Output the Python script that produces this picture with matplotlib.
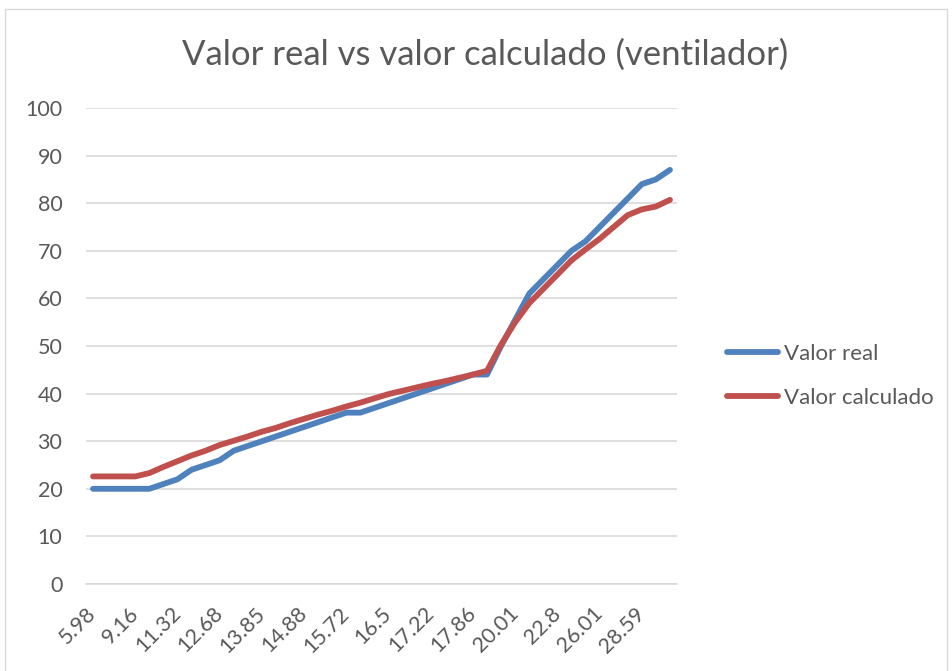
import matplotlib
matplotlib.use("Agg")
import matplotlib.pyplot as plt
from matplotlib.patches import Rectangle

plt.rcParams['font.family'] = ['Lato', 'DejaVu Sans']

title = "Valor real vs valor calculado (ventilador)"

# velocidades mostradas en el eje (una de cada tres mediciones)
tick_labels = ["5.98", "9.16", "11.32", "12.68", "13.85", "14.88", "15.72",
               "16.5", "17.22", "17.86", "20.01", "22.8", "26.01", "28.59"]
label_step = 3

valor_real = [20, 20, 20, 20, 20, 21, 22, 24, 25, 26,
              28, 29, 30, 31, 32, 33, 34, 35, 36, 36,
              37, 38, 39, 40, 41, 42, 43, 44, 44, 50,
              55.5, 61, 64, 67, 70, 72, 75, 78, 81, 84,
              85, 87]

valor_calculado = [22.6, 22.6, 22.6, 22.6, 23.3, 24.6, 25.8, 27.0, 28.0, 29.2,
                   30.1, 31.0, 32.0, 32.8, 33.8, 34.7, 35.6, 36.4, 37.3, 38.1,
                   39.0, 39.9, 40.6, 41.3, 42.0, 42.6, 43.3, 44.0, 44.8, 50.3,
                   55.0, 59.0, 62.0, 65.0, 68.0, 70.3, 72.5, 75.0, 77.5, 78.7,
                   79.3, 80.7]

text_color = '#595959'
grid_color = '#d9d9d9'

fig = plt.figure(figsize=(9.52, 6.71), dpi=100)

# borde del área del gráfico
fig.patches.append(Rectangle((5 / 952, -0.05), 942 / 952, 1.05 - 9 / 671,
                             transform=fig.transFigure, fill=False,
                             edgecolor=grid_color, linewidth=1))

ax = fig.add_axes([86 / 952, 1 - 584 / 671, 591 / 952, 476 / 671])

x = list(range(len(valor_real)))
ax.plot(x, valor_real, color='#4F81BD', lw=4.2, solid_capstyle='round',
        solid_joinstyle='round', label='Valor real', zorder=3)
ax.plot(x, valor_calculado, color='#C0504D', lw=4.2, solid_capstyle='round',
        solid_joinstyle='round', label='Valor calculado', zorder=3)

ax.set_xlim(-0.5, len(x) - 0.5)
ax.set_ylim(0, 100)
ax.set_yticks(range(0, 101, 10))
ax.set_xticks(range(0, len(tick_labels) * label_step, label_step))
ax.set_xticklabels(tick_labels, rotation=45, ha='right', va='center',
                   rotation_mode='anchor')
ax.grid(axis='y', color=grid_color, lw=1.2, zorder=0)
ax.set_axisbelow(True)
for side in ['top', 'right', 'left']:
    ax.spines[side].set_visible(False)
ax.spines['bottom'].set_color(grid_color)
ax.spines['bottom'].set_linewidth(1.2)
ax.tick_params(axis='y', length=0, pad=17, labelsize=15.5, labelcolor=text_color)
ax.tick_params(axis='x', length=0, pad=19, labelsize=15.5, labelcolor=text_color)

fig.text(0.51, 0.918, title, ha='center', va='center', fontsize=25,
         color=text_color)

fig.legend(loc='center left', bbox_to_anchor=(707 / 952, 1 - 376 / 671),
           frameon=False, fontsize=16, labelcolor=text_color,
           handlelength=2.3, handletextpad=0.27, labelspacing=1.1)

fig.savefig('out.png', dpi=100)
